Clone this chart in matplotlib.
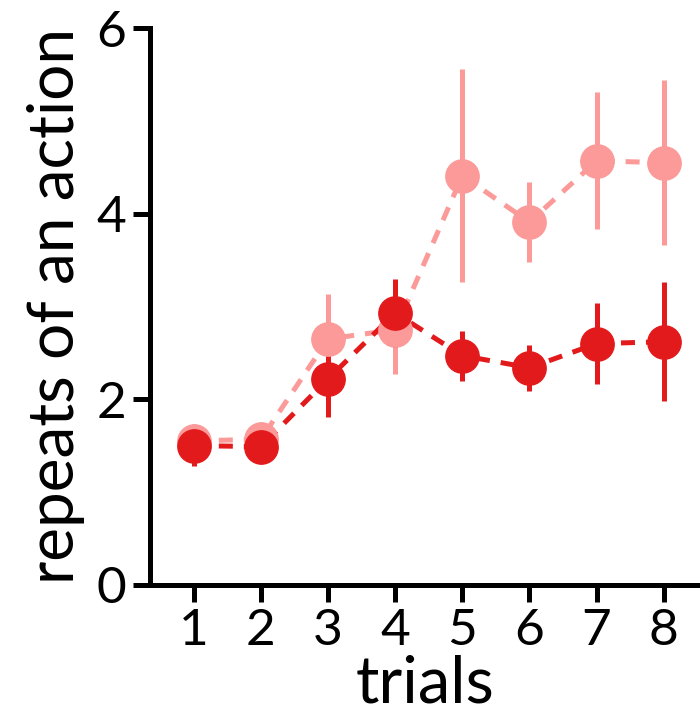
import numpy as np
import matplotlib.pyplot as plt

trials = [1, 2, 3, 4, 5, 6, 7, 8]

light_mean = [1.55, 1.57, 2.65, 2.75, 4.41, 3.91, 4.57, 4.55]
light_err = [0.18, 0.15, 0.48, 0.48, 1.15, 0.43, 0.74, 0.89]

dark_mean = [1.50, 1.49, 2.22, 2.93, 2.47, 2.34, 2.60, 2.62]
dark_err = [0.22, 0.12, 0.41, 0.37, 0.27, 0.25, 0.44, 0.64]

light_col = '#FB9A99'
dark_col = '#E31A1C'

plt.rcParams['font.family'] = ['Lato', 'DejaVu Sans']

fig = plt.figure(figsize=(7, 7.22), dpi=100)
ax = fig.add_axes([0.214, 0.19, 0.786, 0.771])

for m, e, c in [(light_mean, light_err, light_col), (dark_mean, dark_err, dark_col)]:
    ax.errorbar(trials, m, yerr=e, color=c, fmt='o', ms=24, elinewidth=3.6,
                capsize=0, zorder=3)
    ax.plot(trials, m, color=c, lw=3.6, dashes=(2.8, 2.2), zorder=2)

ax.set_xlim(0.344, 8.54)
ax.set_ylim(0, 6)
ax.set_xticks(trials)
ax.set_yticks([0, 2, 4, 6])
ax.spines['top'].set_visible(False)
ax.spines['right'].set_visible(False)
ax.spines['left'].set_linewidth(3.6)
ax.spines['bottom'].set_linewidth(3.6)
ax.tick_params(width=3.6, length=12, labelsize=37, pad=5)
ax.set_xlabel('trials', fontsize=47, labelpad=0)
ax.set_ylabel('repeats of an action', fontsize=46, labelpad=8)

fig.savefig('out.png', dpi=100)
